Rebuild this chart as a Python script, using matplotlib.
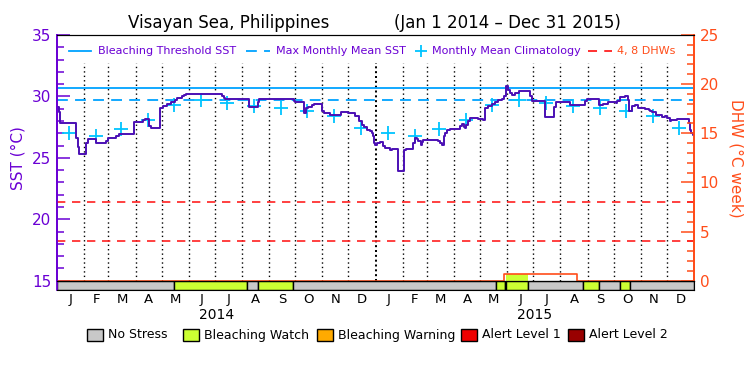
import numpy as np
import matplotlib
matplotlib.use("Agg")
import matplotlib.pyplot as plt
from matplotlib.patches import Rectangle
from matplotlib.ticker import MultipleLocator
from matplotlib.transforms import blended_transform_factory

# ---------------- data ----------------
title_left = "Visayan Sea, Philippines"
title_right = "(Jan 1 2014 – Dec 31 2015)"

# SST breakpoints (day since 2014-01-01, value in degC), drawn as steps
sst_day = [0, 2, 3, 22, 24, 25, 33, 35, 45, 56, 58, 68, 71, 88, 98, 101, 106, 108,
           118, 122, 126, 131, 135, 138, 143, 146, 148, 189, 191, 193, 220, 230, 232,
           272, 273, 283, 285, 288, 292, 294, 304, 306, 313, 326, 334, 342, 346, 349,
           352, 355, 359, 361, 362, 363, 364, 367, 370, 374, 376, 382, 384, 391, 398,
           400, 408, 410, 412, 414, 417, 418, 420, 437, 439, 441, 443, 445, 447, 450,
           462, 464, 466, 468, 469, 471, 473, 483, 485, 488, 490, 494, 499, 502, 505,
           510, 512, 514, 515, 517, 519, 522, 525, 529, 542, 544, 559, 569, 572, 588,
           605, 607, 621, 624, 626, 632, 641, 642, 645, 651, 654, 656, 659, 662, 666,
           674, 678, 680, 682, 687, 689, 693, 697, 699, 702, 704, 710, 724, 725, 727,
           729, 730]
sst_val = [29.1, 28.7, 27.8, 26.6, 25.9, 25.3, 26.2, 26.5, 26.2, 26.4, 26.6, 26.8, 26.95,
           27.9, 28.05, 28.2, 27.6, 27.4, 29.06, 29.2, 29.35, 29.55, 29.7, 29.85, 30.0,
           30.1, 30.23, 30.0, 29.85, 29.78, 29.1, 29.55, 29.78, 29.6, 29.55, 28.65, 29.06,
           29.12, 29.28, 29.39, 28.79, 28.65, 28.47, 28.71, 28.65, 28.43, 28.03, 27.7,
           27.49, 27.3, 27.16, 27.03, 26.76, 26.21, 26.07, 26.21, 26.3, 25.94, 25.8, 25.67,
           25.72, 23.96, 25.67, 25.75, 26.2, 26.62, 26.53, 26.35, 26.07, 26.3, 26.48, 26.4,
           26.21, 26.07, 26.76, 27.03, 27.3, 27.38, 27.57, 27.76, 27.49, 27.43, 27.7, 28.03,
           28.25, 28.18, 28.14, 28.11, 29.06, 29.2, 29.39, 29.55, 29.74, 29.82, 30.0, 30.42,
           30.83, 30.56, 30.29, 30.15, 30.29, 30.42, 30.0, 29.66, 28.3, 29.1, 29.58, 29.3,
           29.6, 29.76, 29.33, 29.28, 29.39, 29.55, 29.47, 29.6, 29.93, 30.0, 29.74, 28.79,
           29.2, 29.28, 29.06, 29.0, 28.92, 28.79, 28.74, 28.52, 28.47, 28.3, 28.39, 28.25,
           28.03, 28.11, 28.18, 27.8, 27.3, 27.03, 26.89, 26.89]

mmm = 29.68
threshold = 30.68
clim_month = [27.0, 26.75, 27.35, 28.05, 29.27, 29.67, 29.45, 29.22, 29.09, 28.82, 28.44, 27.46]

# DHW breakpoints (day, degC-week)
dhw_day = [0, 512, 596, 730]
dhw_val = [0.0, 0.65, 0.0, 0.0]
dhw_watch_fill = [515, 540]
dhw_lines = [4, 8]

# Stress level bar segments
status_start = [0, 134, 218, 230, 271, 503, 513, 515, 540, 603, 621, 645, 657]
status_level = [0, 1, 0, 1, 0, 1, 2, 1, 0, 1, 0, 1, 0]
level_names = ["No Stress", "Bleaching Watch", "Bleaching Warning", "Alert Level 1", "Alert Level 2"]
level_colors = ["#c8c8c8", "#ccff33", "#ffaa00", "#ee0000", "#990000"]

month_letters = ["J", "F", "M", "A", "M", "J", "J", "A", "S", "O", "N", "D"]
years = ["2014", "2015"]

# ---------------- style ----------------
PURPLE = "#6a00d4"
LINE_PURPLE = "#4b0fb4"
BLUE = "#00a2ff"
CYAN = "#00c4ff"
ORANGE = "#ff4d1a"
RED = "#ff2020"

W, H = 750, 375
fig = plt.figure(figsize=(7.5, 3.75), dpi=100)
L, R = 57 / W, 694 / W
y0, ytop = 280.7, 35.0
ax = fig.add_axes([L, (H - y0) / H, R - L, (y0 - ytop) / H])
ax.set_xlim(0, 730)
ax.set_ylim(15, 35)

# month positions
months = np.arange("2014-01", "2016-02", dtype="datetime64[M]").astype("datetime64[D]")
mstart = (months - np.datetime64("2014-01-01")).astype(int)
mid = (mstart[:-1] + mstart[1:]) / 2.0
clim_x = mstart[:-1] + 14

# dotted month boundaries
inner = mstart[1:-1]
ax.vlines([m for m in inner if m != 365], 15, 32.7, colors="k",
          linestyles=(0, (1, 2.2)), lw=1.0)
ax.vlines([365], 15, 32.7, colors="k", linestyles=(0, (1, 1.4)), lw=1.45)

# threshold lines
ax.axhline(threshold, color=BLUE, lw=1.3)
ax.axhline(mmm, color=BLUE, lw=1.3, dashes=(6, 4))

# DHW axis
ax2 = ax.twinx()
ax2.set_ylim(0, 25)
for v in dhw_lines:
    ax2.axhline(v, color=RED, lw=1.2, dashes=(5, 4))
dd = np.array(dhw_day)
dv = np.array(dhw_val)
ax2.fill_between([dhw_watch_fill[0], dhw_watch_fill[1]], 0, dhw_val[1],
                 color=level_colors[1], lw=0)
ax2.plot(dd, dv, drawstyle="steps-post", color=ORANGE, lw=1.2)

# climatology
ax.plot(clim_x, clim_month * 2, ls="none",
        marker="+", ms=10, mew=1.3, color=CYAN, zorder=4)

# SST
ax.plot(sst_day, sst_val, drawstyle="steps-post", color=LINE_PURPLE, lw=1.4, zorder=5)

# axes styling
ax.set_xticks([])
ax.yaxis.set_major_locator(MultipleLocator(5))
ax.yaxis.set_minor_locator(MultipleLocator(1))
ax.tick_params(axis="y", which="major", direction="in", length=9.4, width=1.1,
               color=PURPLE, labelcolor=PURPLE, labelsize=11, pad=4)
ax.tick_params(axis="y", which="minor", direction="in", length=5, width=1.1, color=PURPLE)
ax2.yaxis.set_major_locator(MultipleLocator(5))
ax2.yaxis.set_minor_locator(MultipleLocator(1))
ax2.tick_params(axis="y", which="major", direction="in", length=9.4, width=1.1,
                color=ORANGE, labelcolor=ORANGE, labelsize=11, pad=4)
ax2.tick_params(axis="y", which="minor", direction="in", length=5, width=1.1, color=ORANGE)
for a in (ax, ax2):
    a.spines["left"].set_color(PURPLE)
    a.spines["left"].set_linewidth(1.3)
    a.spines["right"].set_color(ORANGE)
    a.spines["right"].set_linewidth(1.3)
    a.spines["top"].set_color("k")
    a.spines["bottom"].set_color("k")
ax.set_ylabel("SST (°C)", color=PURPLE, fontsize=11, labelpad=5)
ax2.set_ylabel("DHW (°C week)", color=ORANGE, fontsize=11, rotation=-90, labelpad=18)

# in-plot legend
ly = 0.936
tf = blended_transform_factory(fig.transFigure, ax.transAxes)
ax.plot([69 / W, 91 / W], [ly, ly], transform=tf, color=BLUE, lw=1.3, clip_on=False)
ax.text(98 / W, ly, "Bleaching Threshold SST", transform=tf, color=PURPLE, fontsize=8,
        va="center", ha="left")
ax.plot([246 / W, 270 / W], [ly, ly], transform=tf, color=BLUE, lw=1.3, dashes=(6, 4),
        clip_on=False)
ax.text(276 / W, ly, "Max Monthly Mean SST", transform=tf, color=PURPLE, fontsize=8,
        va="center", ha="left")
ax.plot([421 / W], [ly], transform=tf, marker="+", ms=9, mew=1.3, color=CYAN, ls="none",
        clip_on=False)
ax.text(432 / W, ly, "Monthly Mean Climatology", transform=tf, color=PURPLE, fontsize=8,
        va="center", ha="left")
ax.plot([588 / W, 612 / W], [ly, ly], transform=tf, color=RED, lw=1.3, dashes=(5, 4),
        clip_on=False)
ax.text(617 / W, ly, "4, 8 DHWs", transform=tf, color=ORANGE, fontsize=8,
        va="center", ha="left")

# status bar
axb = fig.add_axes([L, (H - 290.2) / H, R - L, 9.5 / H])
axb.set_xlim(0, 730)
axb.set_ylim(0, 1)
ends = status_start[1:] + [730]
for s, e, lv in zip(status_start, ends, status_level):
    axb.barh(0.5, e - s, left=s, height=1, color=level_colors[lv], edgecolor="k", lw=1.0)
axb.set_xticks([])
axb.set_yticks([])
axb.spines["left"].set_color(PURPLE)
axb.spines["left"].set_linewidth(1.3)
for sp in ("top", "bottom", "right"):
    axb.spines[sp].set_color("k")

# month and year labels
tb = blended_transform_factory(ax.transData, fig.transFigure)
for i, m in enumerate(mid):
    ax.text(m, (H - 299.5) / H, month_letters[i % 12], transform=tb, ha="center",
            va="center", fontsize=9.5, color="k")
for j, yr in enumerate(years):
    ax.text(182.5 + 365 * j, (H - 315) / H, yr, transform=tb, ha="center", va="center",
            fontsize=10, color="k")

# bottom legend
box_x = [87, 183, 317, 461, 568]
for x, name, col in zip(box_x, level_names, level_colors):
    fig.patches.append(Rectangle((x / W, (H - 341) / H), 16 / W, 12 / H, facecolor=col,
                                 edgecolor="k", lw=1.0, transform=fig.transFigure))
    fig.text((x + 21) / W, (H - 335) / H, name, ha="left", va="center", fontsize=9,
             color="k")

# title
fig.text(128 / W, (H - 23) / H, title_left, ha="left", va="center", fontsize=12)
fig.text(621 / W, (H - 23) / H, title_right, ha="right", va="center", fontsize=12)

fig.savefig("out.png", dpi=100)
